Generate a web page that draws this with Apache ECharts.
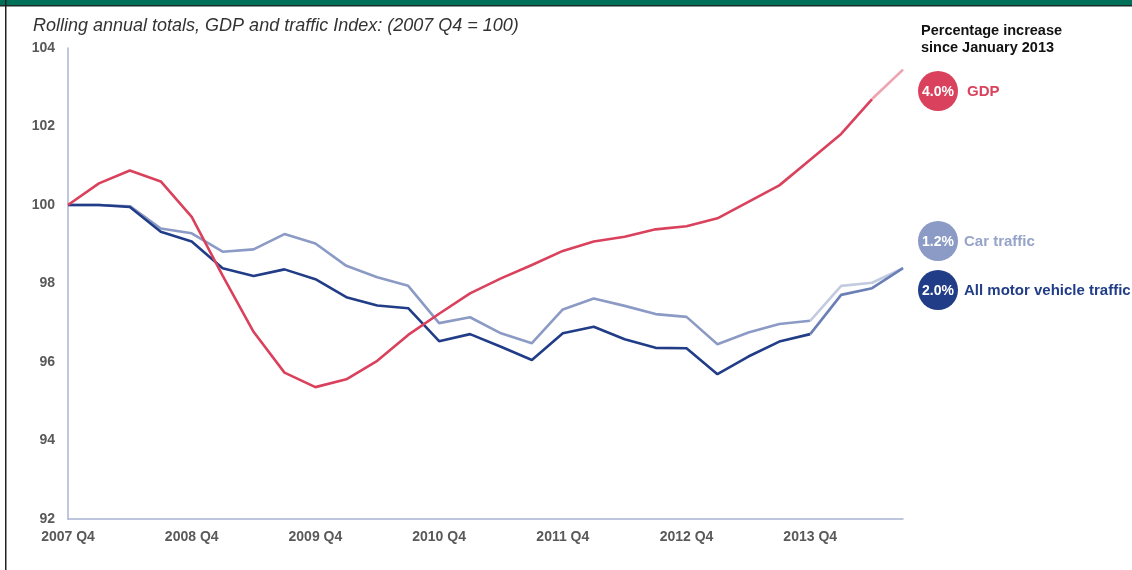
<!DOCTYPE html>
<html>
<head>
<meta charset="utf-8">
<script src="https://cdn.jsdelivr.net/npm/echarts@6/dist/echarts.min.js"></script>
<style>
html,body{margin:0;padding:0;background:#fff;}
#chart{width:1132px;height:570px;}
</style>
</head>
<body>
<div id="chart"></div>
<script>
var categories = ['2007 Q4','2008 Q1','2008 Q2','2008 Q3','2008 Q4','2009 Q1','2009 Q2','2009 Q3','2009 Q4','2010 Q1','2010 Q2','2010 Q3','2010 Q4','2011 Q1','2011 Q2','2011 Q3','2011 Q4','2012 Q1','2012 Q2','2012 Q3','2012 Q4','2013 Q1','2013 Q2','2013 Q3','2013 Q4','2014 Q1','2014 Q2','2014 Q3'];
var gdp = [100, 100.55, 100.88, 100.6, 99.7, 98.2, 96.77, 95.73, 95.36, 95.56, 96.03, 96.69, 97.23, 97.75, 98.13, 98.47, 98.83, 99.07, 99.19, 99.38, 99.46, 99.66, 100.08, 100.5, 101.15, 101.81, 102.7, 103.45];
var carTraffic = [100, 100, 99.97, 99.4, 99.28, 98.81, 98.87, 99.26, 99.02, 98.45, 98.16, 97.94, 96.99, 97.14, 96.73, 96.48, 97.34, 97.62, 97.43, 97.22, 97.15, 96.45, 96.75, 96.97, 97.05, 97.94, 98.02, 98.39];
var motorTraffic = [100, 100, 99.95, 99.32, 99.07, 98.39, 98.19, 98.36, 98.11, 97.65, 97.44, 97.37, 96.53, 96.71, 96.39, 96.05, 96.73, 96.9, 96.58, 96.36, 96.35, 95.69, 96.14, 96.52, 96.71, 97.71, 97.88, 98.39];
var gdpProjStart = 26;
var trafficProjStart = 24;
var increases = [{label:'GDP', pct:'4.0%'}, {label:'Car traffic', pct:'1.2%'}, {label:'All motor vehicle traffic', pct:'2.0%'}];

function part(arr, from, to) {
  return arr.map(function (v, i) { return (i >= from && i <= to) ? v : null; });
}

var RED = '#d9415c', CAR = '#8c9bc5', MOTOR = '#223d87';
var chart = echarts.init(document.getElementById('chart'));

function lineSeries(data, color, z) {
  return {
    type: 'line', data: data, symbol: 'none', connectNulls: false, z: z,
    lineStyle: { color: color, width: 2.6 }, itemStyle: { color: color }
  };
}

var LBL = 'bold 15px Liberation Sans';
chart.setOption({
  animation: false,
  title: {
    text: 'Rolling annual totals, GDP and traffic Index: (2007 Q4 = 100)',
    left: 33, top: 17, padding: 0,
    textStyle: { fontFamily: 'Liberation Sans', fontStyle: 'italic', fontWeight: 'normal', fontSize: 18, color: '#333333' }
  },
  grid: { left: 68, right: 229, top: 48, bottom: 51 },
  xAxis: {
    type: 'category', data: categories, boundaryGap: false,
    axisLine: { lineStyle: { color: '#a9b4d4', width: 1.5 } },
    axisTick: { show: false },
    axisLabel: { interval: 3, color: '#595959', fontWeight: 'bold', fontSize: 14, fontFamily: 'Liberation Sans', margin: 11 },
    splitLine: { show: false }
  },
  yAxis: {
    type: 'value', min: 92, max: 104, interval: 2,
    axisLine: { show: true, lineStyle: { color: '#a9b4d4', width: 1.5 } },
    axisTick: { show: false },
    axisLabel: { color: '#595959', fontWeight: 'bold', fontSize: 14, fontFamily: 'Liberation Sans', margin: 13 },
    splitLine: { show: false }
  },
  series: [
    lineSeries(part(carTraffic, 0, trafficProjStart), CAR, 3),
    lineSeries(part(carTraffic, trafficProjStart, categories.length - 1), '#c3cbe1', 3),
    lineSeries(part(motorTraffic, 0, trafficProjStart), MOTOR, 4),
    lineSeries(part(motorTraffic, trafficProjStart, categories.length - 1), '#6a7fb6', 4),
    lineSeries(part(gdp, 0, gdpProjStart), RED, 5),
    lineSeries(part(gdp, gdpProjStart, categories.length - 1), '#eda3b0', 5)
  ],
  graphic: [
    { type: 'rect', left: 0, top: 0, shape: { width: 1132, height: 5 }, style: { fill: '#00705a' }, silent: true },
    { type: 'rect', left: 0, top: 5, shape: { width: 1132, height: 1.5 }, style: { fill: '#1a2a26' }, silent: true },
    { type: 'rect', left: 5, top: 0, shape: { width: 1.5, height: 570 }, style: { fill: '#222222' }, silent: true },
    { type: 'text', left: 921, top: 22, style: { text: 'Percentage increase\nsince January 2013', fill: '#111111', font: 'bold 14.5px Liberation Sans', lineHeight: 17.5 } },
    { type: 'circle', shape: { cx: 938, cy: 91, r: 20 }, style: { fill: RED } },
    { type: 'text', x: 938, y: 92, style: { text: increases[0].pct, fill: '#ffffff', font: 'bold 14px Liberation Sans', align: 'center', verticalAlign: 'middle' } },
    { type: 'text', x: 967, y: 92, style: { text: increases[0].label, fill: RED, font: LBL, verticalAlign: 'middle' } },
    { type: 'circle', shape: { cx: 938, cy: 241, r: 20 }, style: { fill: CAR } },
    { type: 'text', x: 938, y: 242, style: { text: increases[1].pct, fill: '#ffffff', font: 'bold 14px Liberation Sans', align: 'center', verticalAlign: 'middle' } },
    { type: 'text', x: 964, y: 242, style: { text: increases[1].label, fill: '#97a4ca', font: LBL, verticalAlign: 'middle' } },
    { type: 'circle', shape: { cx: 938, cy: 290, r: 20 }, style: { fill: MOTOR } },
    { type: 'text', x: 938, y: 291, style: { text: increases[2].pct, fill: '#ffffff', font: 'bold 14px Liberation Sans', align: 'center', verticalAlign: 'middle' } },
    { type: 'text', x: 964, y: 291, style: { text: increases[2].label, fill: MOTOR, font: LBL, verticalAlign: 'middle' } }
  ]
});
</script>
</body>
</html>
